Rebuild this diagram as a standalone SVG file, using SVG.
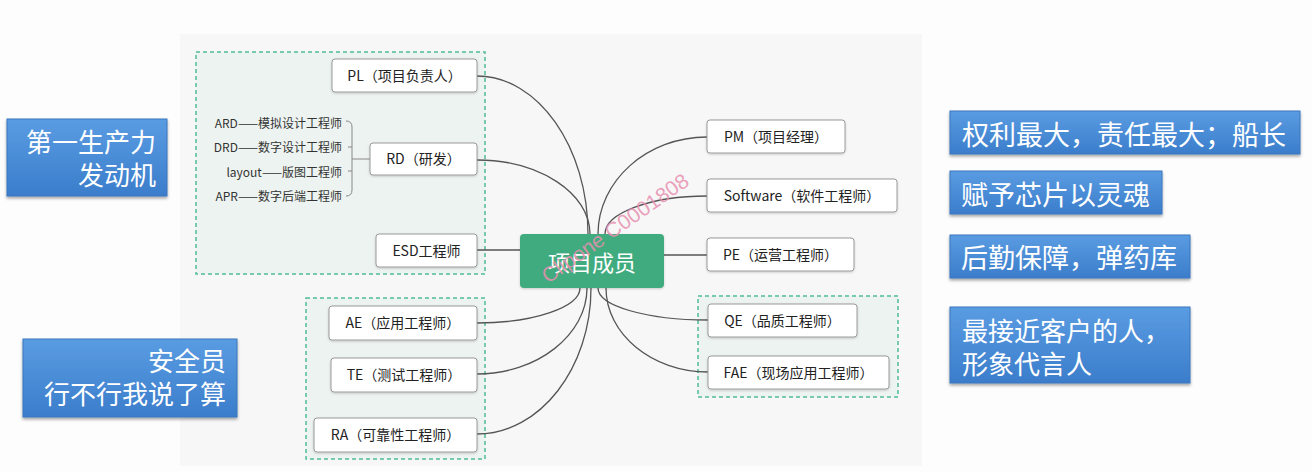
<svg xmlns="http://www.w3.org/2000/svg" width="1312" height="472" viewBox="0 0 1312 472">
<defs>
<linearGradient id="blue" x1="0" y1="0" x2="0" y2="1">
<stop offset="0" stop-color="#5a9ce2"/>
<stop offset="1" stop-color="#3b7dcb"/>
</linearGradient>
<filter id="sh" x="-10%" y="-10%" width="120%" height="140%">
<feDropShadow dx="0" dy="2" stdDeviation="1.5" flood-color="#000" flood-opacity="0.35"/>
</filter>
<filter id="nsh" x="-10%" y="-10%" width="120%" height="140%">
<feDropShadow dx="0" dy="1" stdDeviation="0.8" flood-color="#000" flood-opacity="0.18"/>
</filter>
</defs>
<style>
.bg{fill:#f6f7f6}
.grp{fill:#edf3f0;stroke:#52bd95;stroke-width:1.5;stroke-dasharray:4 3}
.node rect{fill:#fff;stroke:#9a9a9a;stroke-width:1}
.node text{font-family:"Noto Sans CJK SC","Noto Sans",sans-serif;font-size:14px;fill:#222;text-anchor:middle}
.sub{font-family:"Noto Sans CJK SC","Noto Sans",sans-serif;font-size:12px;fill:#333;text-anchor:end}
.conn path{fill:none;stroke:#555;stroke-width:1.3}
.brace{fill:none;stroke:#888;stroke-width:1}
.callout rect{fill:url(#blue);stroke:#3a76bd;stroke-width:1;filter:url(#sh)}
.callout text{font-family:"Noto Sans CJK SC","Noto Sans",sans-serif;font-size:27px;fill:#fff}
.callout text.two{font-family:"Liberation Sans","Noto Sans CJK SC",sans-serif;font-size:26px}
.wm{font-family:"Liberation Sans",sans-serif;font-size:21px;fill:#e88fb0;fill-opacity:0.85}
</style>
<rect width="1312" height="472" fill="#fdfdfd"/>
<rect class="bg" x="180" y="34" width="742" height="432"/>

<!-- groups -->
<rect class="grp" x="196" y="52" width="289" height="222"/>
<rect class="grp" x="306" y="298" width="179" height="161"/>
<rect class="grp" x="698" y="296" width="200" height="101"/>

<!-- connectors -->
<g id="connectors" class="conn">
<path d="M477,76 C538,76 588,147 588,234"/>
<path d="M477,160 C539,160 590,193 590,234"/>
<path d="M477,250 L520,250"/>
<path d="M707,137 C647,137 598,181 598,234"/>
<path d="M707,196 C651,196 605,213 605,234"/>
<path d="M664,255 L707,255"/>
<path d="M477,323 C534,323 580,307 580,288"/>
<path d="M477,374 C537,374 587,335 587,288"/>
<path d="M477,434 C540,434 591,368 591,288"/>
<path d="M708,320 C647,320 598,306 598,288"/>
<path d="M708,372 C652,372 606,334 606,288"/>
</g>

<!-- RD sub items -->
<g id="rd-sub">
<text class="sub" x="342" y="128">ARD——模拟设计工程师</text>
<text class="sub" x="342" y="152">DRD——数字设计工程师</text>
<text class="sub" x="342" y="177">layout——版图工程师</text>
<text class="sub" x="342" y="201">APR——数字后端工程师</text>
<path class="brace" d="M346,121 Q352,121 352,127 L352,190 Q352,196 346,196 M348,147 L352,147 M348,171 L352,171 M352,159 L370,159"/>
</g>

<g id="center">
<rect x="520" y="234" width="144" height="54" rx="4" fill="#3fab7e" filter="url(#nsh)"/>
<text x="592" y="271" font-family="'Noto Sans CJK SC','Noto Sans',sans-serif" font-size="22" fill="#fff" text-anchor="middle">项目成员</text>
</g>

<g id="pl" class="node"><rect x="332" y="59" width="145" height="33" rx="3" filter="url(#nsh)"/><text x="404.5" y="80.5">PL（项目负责人）</text></g>
<g id="rd" class="node"><rect x="370" y="143" width="107" height="32" rx="3" filter="url(#nsh)"/><text x="423.5" y="164">RD（研发）</text></g>
<g id="esd" class="node"><rect x="376" y="234" width="101" height="33" rx="3" filter="url(#nsh)"/><text x="426.5" y="255.5">ESD工程师</text></g>
<g id="ae" class="node"><rect x="329" y="306" width="148" height="34" rx="3" filter="url(#nsh)"/><text x="403" y="328">AE（应用工程师）</text></g>
<g id="te" class="node"><rect x="331" y="358" width="146" height="34" rx="3" filter="url(#nsh)"/><text x="404" y="380">TE（测试工程师）</text></g>
<g id="ra" class="node"><rect x="314" y="418" width="163" height="34" rx="3" filter="url(#nsh)"/><text x="395.5" y="440">RA（可靠性工程师）</text></g>
<g id="pm" class="node"><rect x="707" y="120" width="138" height="33" rx="3" filter="url(#nsh)"/><text x="776" y="141.5">PM（项目经理）</text></g>
<g id="software" class="node"><rect x="707" y="179" width="190" height="33" rx="3" filter="url(#nsh)"/><text x="802" y="200.5">Software（软件工程师）</text></g>
<g id="pe" class="node"><rect x="707" y="238" width="147" height="33" rx="3" filter="url(#nsh)"/><text x="780.5" y="259.5">PE（运营工程师）</text></g>
<g id="qe" class="node"><rect x="708" y="304" width="149" height="33" rx="3" filter="url(#nsh)"/><text x="782.5" y="325.5">QE（品质工程师）</text></g>
<g id="fae" class="node"><rect x="708" y="356" width="181" height="33" rx="3" filter="url(#nsh)"/><text x="798.5" y="377.5">FAE（现场应用工程师）</text></g>

<!-- callouts -->
<g id="c1" class="callout"><rect x="7" y="119" width="160" height="77"/><text class="two" text-anchor="end"><tspan x="156" y="152">第一生产力</tspan><tspan x="156" y="185">发动机</tspan></text></g>
<g id="c2" class="callout"><rect x="23" y="339" width="214" height="78"/><text class="two" text-anchor="end"><tspan x="226" y="371">安全员</tspan><tspan x="226" y="404">行不行我说了算</tspan></text></g>
<g id="c3" class="callout"><rect x="950" y="111" width="350" height="43"/><text x="962" y="145">权利最大，责任最大；船长</text></g>
<g id="c4" class="callout"><rect x="950" y="171" width="212" height="43"/><text x="961" y="205">赋予芯片以灵魂</text></g>
<g id="c5" class="callout"><rect x="950" y="235" width="240" height="43"/><text x="961" y="268">后勤保障，弹药库</text></g>
<g id="c6" class="callout"><rect x="950" y="307" width="240" height="76"/><text class="two"><tspan x="962" y="341">最接近客户的人，</tspan><tspan x="962" y="374">形象代言人</tspan></text></g>

<text class="wm" transform="translate(548,284) rotate(-35)">Clipone C0001808</text>
</svg>
